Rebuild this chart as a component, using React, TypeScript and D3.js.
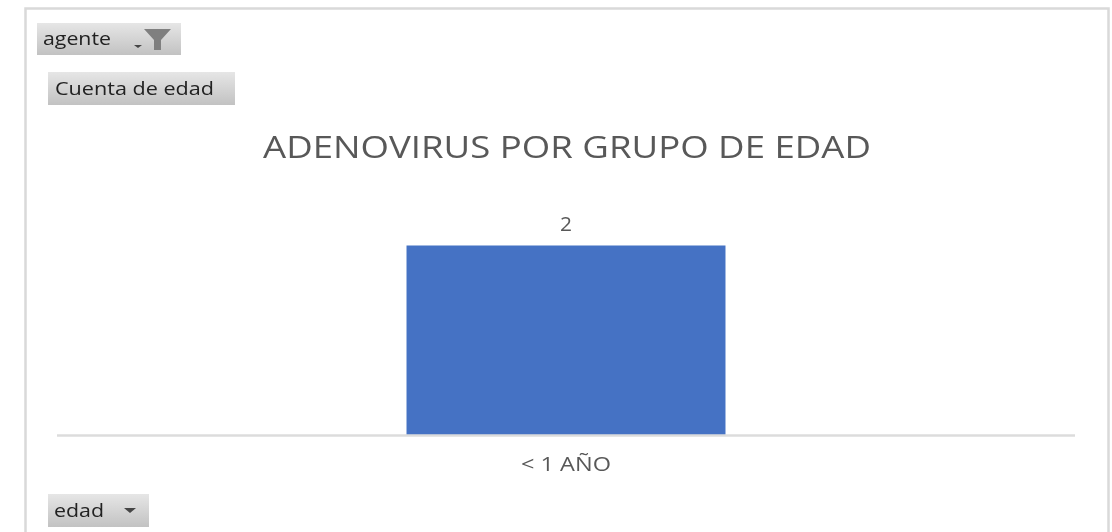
import React from "react";
import * as d3 from "d3";

const categories = ["< 1 AÑO"];
const values = [2];
const chartTitle = "ADENOVIRUS POR GRUPO DE EDAD";
const filterLabel = "agente";
const valueLabel = "Cuenta de edad";
const axisLabel = "edad";

const W = 1112;
const H = 532;
const font = "'Open Sans', sans-serif";
const btnFont = "'Open Sans', sans-serif";

export default function App() {
  const plotLeft = 57;
  const plotRight = 1075;
  const baseY = 435.5;
  const topY = 245.5;
  const x = d3.scaleBand<string>().domain(categories).range([plotLeft, plotRight]).paddingInner(0.3).paddingOuter(0.767);
  const y = d3.scaleLinear().domain([0, d3.max(values) as number]).range([baseY, topY]);
  const Button = ({ bx, by, w, h, label, fs, tx, tl }: any) => (
    <g>
      <rect x={bx} y={by} width={w} height={h} fill="url(#btn)" />
      <text x={bx + tx} y={by + h / 2 + fs * 0.34} fontFamily={btnFont} fontSize={fs} fill="#222" textLength={tl} lengthAdjust="spacingAndGlyphs">{label}</text>
    </g>
  );
  return (
    <svg width={W} height={H} style={{ position: "absolute", left: 0, top: 0, display: "block" }}>
      <defs>
        <linearGradient id="btn" x1="0" y1="0" x2="0" y2="1">
          <stop offset="0" stopColor="#e6e6e6" />
          <stop offset="1" stopColor="#c2c2c2" />
        </linearGradient>
        <filter id="soft" x="-5%" y="-5%" width="110%" height="110%">
          <feGaussianBlur stdDeviation="0.45" />
        </filter>
      </defs>
      <rect width={W} height={H} fill="#ffffff" />
      <g filter="url(#soft)">
        <path d="M25.5,532 V8.5 H1108.5 V532" fill="none" stroke="#d9d9d9" strokeWidth={2.5} />
        <Button bx={37} by={23} w={144} h={32} label={filterLabel} fs={19} tx={6} tl={68} />
        <path d="M134,45 h8 l-4,3 z" fill="#444" />
        <path d="M144,29 H171 L161,40 V50 H154 V40 Z" fill="#7f7f7f" />
        <Button bx={48} by={72} w={187} h={33} label={valueLabel} fs={19} tx={7} tl={159} />
        <Button bx={48} by={494} w={101} h={33} label={axisLabel} fs={19} tx={6} tl={50} />
        <path d="M124,508 h12 l-6,5 z" fill="#444" />
        <text x={567} y={158} textAnchor="middle" fontFamily={font} fontSize={31} fill="#595959" textLength={608} lengthAdjust="spacingAndGlyphs">{chartTitle}</text>
        {categories.map((c, i) => (
          <g key={c}>
            <rect x={x(c)} y={y(values[i])} width={x.bandwidth()} height={baseY - y(values[i])} fill="#4472c4" />
            <text x={(x(c) as number) + x.bandwidth() / 2} y={y(values[i]) - 15} textAnchor="middle" fontFamily={font} fontSize={20} fill="#595959" textLength={12} lengthAdjust="spacingAndGlyphs">{values[i]}</text>
            <text x={(x(c) as number) + x.bandwidth() / 2} y={471} textAnchor="middle" fontFamily={font} fontSize={20} fill="#595959" textLength={90} lengthAdjust="spacingAndGlyphs">{c}</text>
          </g>
        ))}
        <line x1={plotLeft} x2={plotRight} y1={baseY} y2={baseY} stroke="#dcdcdc" strokeWidth={2.5} />
      </g>
    </svg>
  );
}
